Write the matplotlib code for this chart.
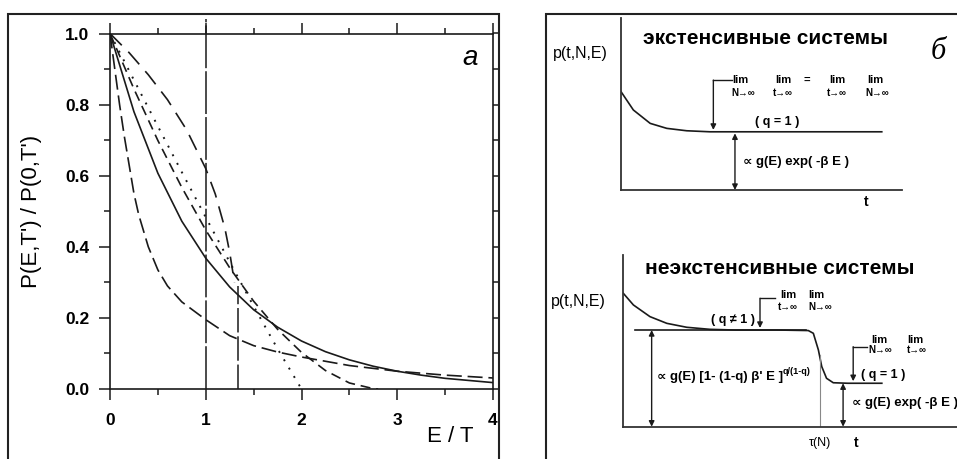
import numpy as np
import matplotlib
matplotlib.use("Agg")
import matplotlib.pyplot as plt
from matplotlib.patches import Rectangle

plt.rcParams['font.family'] = ['Liberation Sans', 'DejaVu Sans']

# ---- panel a: P(E,T')/P(0,T') vs E/T
x_exp = [0, 0.25, 0.5, 0.75, 1.0, 1.25, 1.5, 1.75, 2.0, 2.25, 2.5, 2.75, 3.0, 3.25, 3.5, 3.75, 4.0]
y_exp = [1.0, 0.78, 0.607, 0.472, 0.368, 0.287, 0.223, 0.174, 0.135, 0.105, 0.082, 0.064, 0.05, 0.039, 0.030, 0.024, 0.018]

x_tail = [0, 0.05, 0.1, 0.15, 0.2, 0.25, 0.3, 0.4, 0.5, 0.6, 0.75, 1.0, 1.25, 1.5, 1.75, 2.0, 2.5, 3.0, 3.5, 4.0]
y_tail = [1.0, 0.9, 0.8, 0.71, 0.63, 0.55, 0.49, 0.4, 0.335, 0.29, 0.245, 0.195, 0.15, 0.122, 0.104, 0.09, 0.066, 0.05, 0.039, 0.031]

x_mid = [0, 0.25, 0.5, 0.75, 1.0, 1.25, 1.5, 1.75, 2.0, 2.25, 2.5, 2.75, 2.8]
y_mid = [1.0, 0.844, 0.699, 0.567, 0.447, 0.341, 0.247, 0.168, 0.103, 0.052, 0.017, 0.001, 0.0]

x_dot = [0, 0.25, 0.5, 0.75, 1.0, 1.25, 1.5, 1.75, 2.0]
y_dot = [1.0, 0.869, 0.739, 0.61, 0.483, 0.357, 0.233, 0.113, 0.0]

x_cut = [0, 0.2, 0.4, 0.6, 0.8, 1.0, 1.1, 1.2, 1.25, 1.3]
y_cut = [1.0, 0.946, 0.884, 0.814, 0.729, 0.62, 0.548, 0.452, 0.384, 0.30]

x_ref = [1.0, 1.333]
y_ref_top = [1.04, 0.29]

# ---- panel б: schematic curves
t_ext = [0, 0.44, 1.04, 1.63, 2.34, 3.17, 4.0, 6.0, 9.29]
p_ext = [0.573, 0.466, 0.388, 0.359, 0.345, 0.339, 0.339, 0.339, 0.339]

t_nonext = [0, 0.36, 0.95, 1.55, 2.26, 3.09, 4.0, 5.5, 6.59, 6.77, 6.95, 7.07, 7.24, 7.48, 8.0, 9.21]
p_nonext = [0.777, 0.709, 0.641, 0.602, 0.579, 0.567, 0.563, 0.563, 0.56, 0.544, 0.447, 0.35, 0.282, 0.256, 0.253, 0.253]
p_q_level = 0.563
p_q1_level = 0.253

W, H = 957, 459
fig = plt.figure(figsize=(W / 100, H / 100), dpi=100)

# frames around both panels
fig.patches.append(Rectangle((8 / W, -0.1), 491 / W, 1.0695, transform=fig.transFigure,
                             fill=False, lw=1.5, ec='#222222'))
fig.patches.append(Rectangle((546 / W, -0.1), 0.5, 1.0695, transform=fig.transFigure,
                             fill=False, lw=1.5, ec='#222222'))

ax = fig.add_axes([110 / W, 70 / H, 383 / W, 355.5 / H])
lc = '#1a1a1a'
lw = 1.2
ax.plot(x_exp, y_exp, color=lc, lw=lw)
ax.plot(x_tail, y_tail, color=lc, lw=lw, linestyle=(0, (9, 3.5)))
ax.plot(x_mid, y_mid, color=lc, lw=lw, linestyle=(0, (6, 3.5)))
ax.plot(x_dot, y_dot, color=lc, lw=1.4, linestyle=(0, (1, 4)))
ax.plot(x_cut, y_cut, color=lc, lw=lw, linestyle=(0, (10, 5.5)))
ax.plot([x_ref[0], x_ref[0]], [0, y_ref_top[0]], color=lc, lw=1.1,
        linestyle=(0, (28, 2)), clip_on=False)
ax.plot([x_ref[1], x_ref[1]], [0, y_ref_top[1]], color=lc, lw=1.1,
        linestyle=(0, (16, 2.5)))

ax.set_xlim(0, 4)
ax.set_ylim(0, 1)
ax.set_xticks([0, 1, 2, 3, 4])
ax.set_xticks(np.arange(0, 4.01, 0.5), minor=True)
ax.set_yticks(np.arange(0, 1.01, 0.2))
ax.set_yticks(np.arange(0, 1.01, 0.1), minor=True)
ax.set_yticklabels(['0.0', '0.2', '0.4', '0.6', '0.8', '1.0'])
ax.tick_params(which='both', direction='out', top=True, right=False, width=1.1, color=lc)
ax.tick_params(which='major', length=8)
ax.tick_params(which='minor', length=4)
ax.tick_params(axis='x', which='major', pad=9)
ax.tick_params(axis='y', which='major', pad=7)
for lab in ax.get_xticklabels() + ax.get_yticklabels():
    lab.set_fontweight('bold')
    lab.set_fontsize(12.5)
for s in ax.spines.values():
    s.set_linewidth(1.2)
    s.set_color(lc)

ax_r = ax.twinx()
ax_r.set_ylim(0, 1)
ax_r.set_yticks(np.arange(0, 1.01, 0.1))
ax_r.set_yticklabels([])
ax_r.tick_params(direction='out', length=4.5, width=1.1, color=lc)
for s in ax_r.spines.values():
    s.set_visible(False)

fig.text(32 / W, (H - 211) / H, "P(E,T') / P(0,T')", rotation=90, ha='center', va='center',
         fontsize=16)
fig.text(450 / W, (H - 437) / H, "E / T", ha='center', va='center', fontsize=16)
ax.text(0.94, 0.93, "a", transform=ax.transAxes, ha='center', va='center',
        fontsize=20, style='italic')

# ---- panel б, upper schematic
arr = dict(arrowstyle='-|>', color=lc, lw=1.0, mutation_scale=8, shrinkA=0, shrinkB=0)
darr = dict(arrowstyle='<|-|>', color=lc, lw=1.0, mutation_scale=8, shrinkA=0, shrinkB=0)
fs_lim, fs_sub, fs_txt = 8, 7, 9.5

a1 = fig.add_axes([621 / W, (H - 190) / H, 280.7 / W, 171.7 / H])
a1.plot(t_ext, p_ext, color=lc, lw=1.2)
a1.set_xlim(0, 10)
a1.set_ylim(0, 1)
a1.set_xticks([])
a1.set_yticks([])
for k in ('top', 'right'):
    a1.spines[k].set_visible(False)
for k in ('left', 'bottom'):
    a1.spines[k].set_linewidth(1.3)
    a1.spines[k].set_color('#333333')

a1.text(5.16, 0.884, "экстенсивные системы", ha='center', va='center',
        fontsize=15, fontweight='bold')
a1.text(-1.46, 0.796, "p(t,N,E)", ha='center', va='center', fontsize=11.5)
a1.text(11.29, 0.805, "б", ha='center', va='center', fontsize=22,
        family='Liberation Serif', style='italic')
a1.text(8.75, -0.068, "t", ha='center', va='center', fontsize=10, fontweight='bold')
a1.plot([3.29, 3.94], [0.64, 0.64], color=lc, lw=1.0)
a1.annotate("", xy=(3.29, 0.35), xytext=(3.29, 0.64), arrowprops=arr)
for tt, s in [(4.24, "lim"), (5.77, "lim"), (6.62, "="), (7.70, "lim"), (9.05, "lim")]:
    a1.text(tt, 0.641, s, ha='center', va='center', fontsize=fs_lim, fontweight='bold')
for tt, s in [(4.35, "N→∞"), (5.77, "t→∞"), (7.70, "t→∞"), (9.12, "N→∞")]:
    a1.text(tt, 0.563, s, ha='center', va='center', fontsize=fs_sub, fontweight='bold')
a1.text(5.55, 0.398, "( q = 1 )", ha='center', va='center', fontsize=9, fontweight='bold')
a1.annotate("", xy=(4.06, 0.0), xytext=(4.06, 0.33), arrowprops=darr)
a1.text(4.35, 0.165, "∝ g(E) exp( -β E )", ha='left', va='center', fontsize=fs_txt,
        fontweight='bold')

# ---- panel б, lower schematic
a2 = fig.add_axes([623.3 / W, (H - 426.7) / H, (W - 623.3) / W, 171.7 / H])
a2.plot(t_nonext, p_nonext, color=lc, lw=1.2)
a2.plot([0.41, 6.5], [p_q_level, p_q_level], color=lc, lw=1.2)
a2.set_xlim(0, (W - 623.3) / 28.07)
a2.set_ylim(0, 1)
a2.set_xticks([])
a2.set_yticks([])
for k in ('top', 'right'):
    a2.spines[k].set_visible(False)
for k in ('left', 'bottom'):
    a2.spines[k].set_linewidth(1.3)
    a2.spines[k].set_color('#333333')

a2.text(5.58, 0.923, "неэкстенсивные системы", ha='center', va='center',
        fontsize=15, fontweight='bold')
a2.text(-1.60, 0.728, "p(t,N,E)", ha='center', va='center', fontsize=11.5)
a2.text(7.01, -0.097, "τ(N)", ha='center', va='center', fontsize=9)
a2.text(8.31, -0.095, "t", ha='center', va='center', fontsize=10, fontweight='bold')
a2.plot([6.99, 6.99], [0, 0.42], color='#888888', lw=0.8)
a2.annotate("", xy=(1.01, 0.0), xytext=(1.01, p_q_level), arrowprops=darr)
formula = a2.text(1.19, 0.291, "∝ g(E) [1- (1-q) β' E ]", ha='left',
                  va='center', fontsize=fs_txt, fontweight='bold')
a2.annotate("q/(1-q)", xy=(1.0, 0.55), xycoords=formula, ha='left', va='bottom',
            fontsize=6.5, fontweight='bold')
a2.plot([4.87, 5.4], [0.748, 0.748], color=lc, lw=1.0)
a2.annotate("", xy=(4.87, 0.575), xytext=(4.87, 0.748), arrowprops=arr)
a2.text(5.88, 0.767, "lim", ha='center', va='center', fontsize=fs_lim, fontweight='bold')
a2.text(6.89, 0.767, "lim", ha='center', va='center', fontsize=fs_lim, fontweight='bold')
a2.text(5.88, 0.699, "t→∞", ha='center', va='center', fontsize=fs_sub, fontweight='bold')
a2.text(7.01, 0.699, "N→∞", ha='center', va='center', fontsize=fs_sub, fontweight='bold')
a2.text(3.92, 0.621, "( q ≠ 1 )", ha='center', va='center', fontsize=9, fontweight='bold')
a2.plot([8.19, 8.67], [0.466, 0.466], color=lc, lw=1.0)
a2.annotate("", xy=(8.19, 0.265), xytext=(8.19, 0.466), arrowprops=arr)
a2.text(9.14, 0.505, "lim", ha='center', va='center', fontsize=fs_lim, fontweight='bold')
a2.text(10.39, 0.505, "lim", ha='center', va='center', fontsize=fs_lim, fontweight='bold')
a2.text(9.14, 0.447, "N→∞", ha='center', va='center', fontsize=fs_sub, fontweight='bold')
a2.text(10.45, 0.447, "t→∞", ha='center', va='center', fontsize=fs_sub, fontweight='bold')
a2.text(9.25, 0.301, "( q = 1 )", ha='center', va='center', fontsize=9, fontweight='bold')
a2.annotate("", xy=(7.83, 0.0), xytext=(7.83, p_q1_level), arrowprops=darr)
a2.text(8.14, 0.136, "∝ g(E) exp( -β E )", ha='left', va='center', fontsize=fs_txt,
        fontweight='bold')

fig.savefig("out.png", dpi=100)
